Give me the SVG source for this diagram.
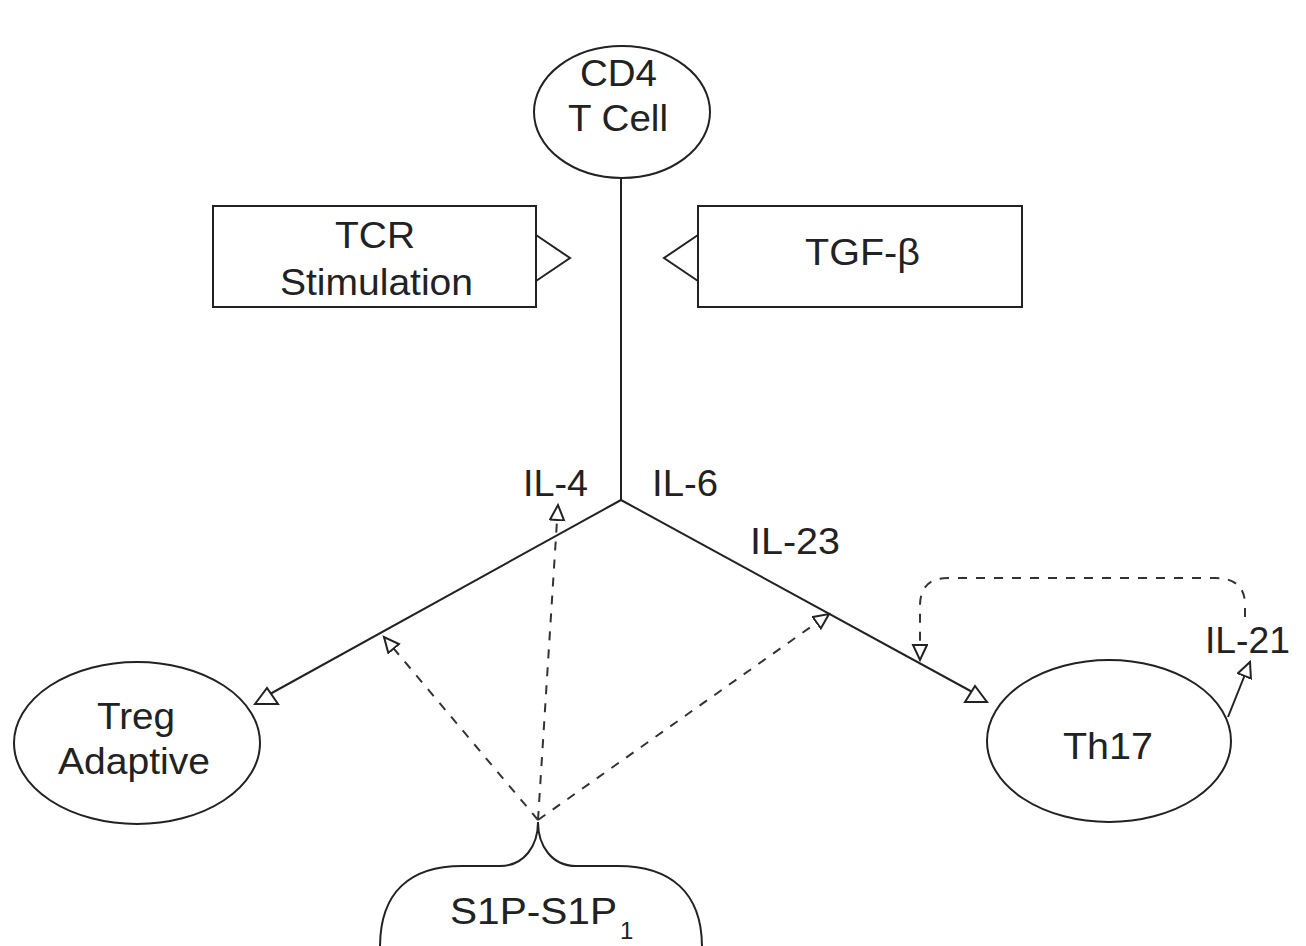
<svg xmlns="http://www.w3.org/2000/svg" width="1306" height="946" viewBox="0 0 1306 946">
<style>
.shape{fill:#fff;stroke:#222;stroke-width:2}
.line{fill:none;stroke:#222;stroke-width:2}
.dash{fill:none;stroke:#333;stroke-width:2;stroke-dasharray:9,9}
.head{fill:#fff;stroke:#222;stroke-width:2;stroke-linejoin:miter}
text{font-family:"Liberation Sans",Arial,sans-serif;font-size:36px;fill:#222}
</style>
<defs>
<marker id="open" markerWidth="20" markerHeight="18" refX="16" refY="8" orient="auto" markerUnits="userSpaceOnUse">
<path d="M1,1 L16,8 L1,15 Z" fill="#fff" stroke="#222" stroke-width="2"/>
</marker>
</defs>
<rect width="1306" height="946" fill="#fff"/>

<g id="connectors">
<line class="line" x1="621" y1="178" x2="621" y2="500"/>
<line class="line" x1="621" y1="500" x2="270" y2="694"/>
<line class="line" x1="621" y1="500" x2="976" y2="694"/>
<polygon class="head" points="255,704 278,704 267,688"/>
<polygon class="head" points="965,702 987,702 975,686"/>
<line class="dash" x1="538" y1="820" x2="384" y2="637" marker-end="url(#open)"/>
<line class="dash" x1="538" y1="820" x2="558" y2="505" marker-end="url(#open)"/>
<line class="dash" x1="538" y1="820" x2="829" y2="614" marker-end="url(#open)"/>
<path class="dash" d="M1245,617 L1245,605 Q1245,578 1215,578 L948,578 Q920,578 920,606 L920,660" marker-end="url(#open)"/>
<line class="line" x1="1228" y1="717" x2="1250" y2="662" marker-end="url(#open)"/>
</g>

<g id="cd4">
<ellipse class="shape" cx="622" cy="112" rx="88" ry="66"/>
<text x="580" y="86" textLength="77" lengthAdjust="spacingAndGlyphs">CD4</text>
<text x="568" y="131" textLength="100" lengthAdjust="spacingAndGlyphs">T Cell</text>
</g>

<g id="tcr">
<rect class="shape" x="213" y="206" width="323" height="101"/>
<polyline class="line" points="536,235 570,258 536,281"/>
<text x="335" y="248" textLength="80" lengthAdjust="spacingAndGlyphs">TCR</text>
<text x="280" y="295" textLength="193" lengthAdjust="spacingAndGlyphs">Stimulation</text>
</g>

<g id="tgf">
<rect class="shape" x="698" y="206" width="324" height="101"/>
<polyline class="line" points="698,235 664,258 698,281"/>
<text x="805" y="265" textLength="115" lengthAdjust="spacingAndGlyphs">TGF-β</text>
</g>

<g id="labels">
<text x="523" y="496" textLength="65" lengthAdjust="spacingAndGlyphs">IL-4</text>
<text x="652" y="496" textLength="66" lengthAdjust="spacingAndGlyphs">IL-6</text>
<text x="750" y="554" textLength="90" lengthAdjust="spacingAndGlyphs">IL-23</text>
<text x="1205" y="653" textLength="85" lengthAdjust="spacingAndGlyphs">IL-21</text>
</g>

<g id="treg">
<ellipse class="shape" cx="137" cy="743" rx="123" ry="81"/>
<text x="97" y="729" textLength="78" lengthAdjust="spacingAndGlyphs">Treg</text>
<text x="58" y="774" textLength="152" lengthAdjust="spacingAndGlyphs">Adaptive</text>
</g>

<g id="th17">
<ellipse class="shape" cx="1109" cy="741" rx="122" ry="81"/>
<text x="1063" y="759" textLength="90" lengthAdjust="spacingAndGlyphs">Th17</text>
</g>

<g id="s1p">
<path class="line" d="M380,947 C380,892 410,866 462,866 L500,866 C524,866 538,846 538,822 C538,846 552,866 576,866 L618,866 C670,866 702,892 702,947"/>
<text x="450" y="924" textLength="167" lengthAdjust="spacingAndGlyphs">S1P-S1P</text>
<text x="620" y="939" style="font-size:24px">1</text>
</g>
</svg>
